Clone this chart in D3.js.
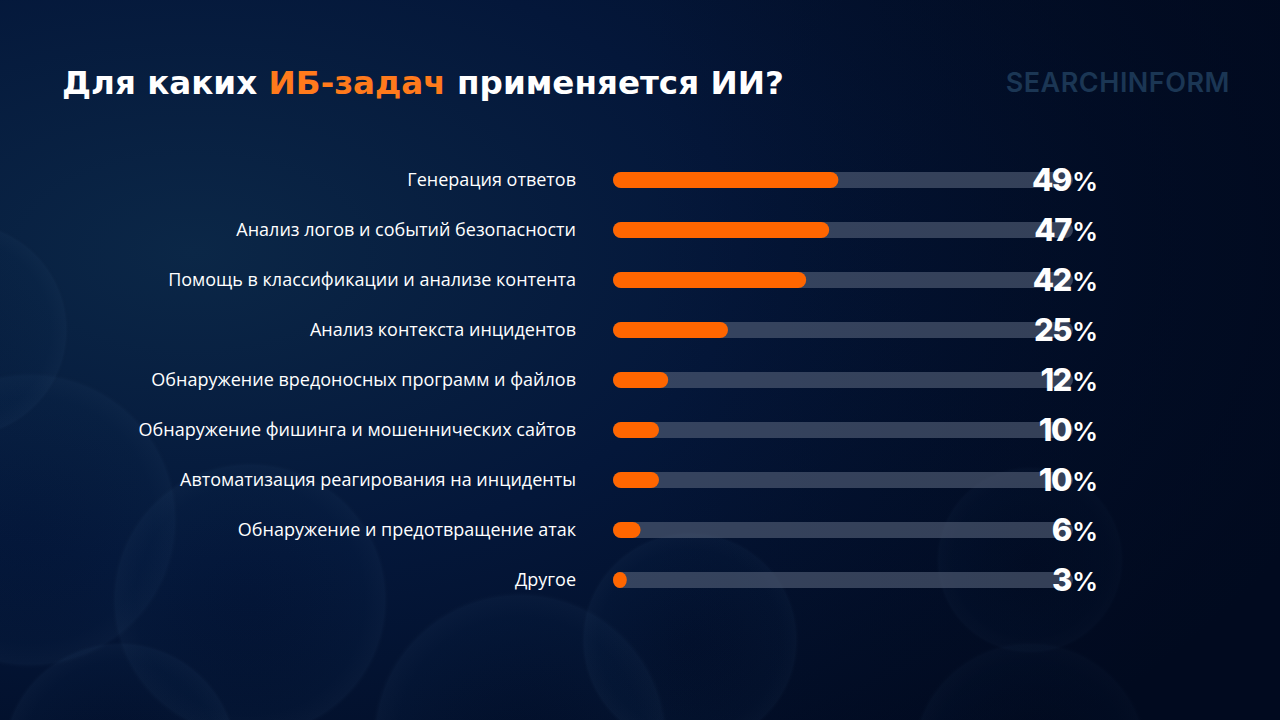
<!DOCTYPE html>
<html>
<head>
<meta charset="utf-8">
<script src="https://cdn.jsdelivr.net/npm/d3@7"></script>
<style>
  html, body { margin: 0; padding: 0; background: #020e26; }
  svg { display: block; }
</style>
</head>
<body>
<svg width="1280" height="720"></svg>
<script>
// данные
var categories = [
  "Генерация ответов",
  "Анализ логов и событий безопасности",
  "Помощь в классификации и анализе контента",
  "Анализ контекста инцидентов",
  "Обнаружение вредоносных программ и файлов",
  "Обнаружение фишинга и мошеннических сайтов",
  "Автоматизация реагирования на инциденты",
  "Обнаружение и предотвращение атак",
  "Другое"
];
var values = [49, 47, 42, 25, 12, 10, 10, 6, 3];

var width = 1280, height = 720;
var svg = d3.select("svg");
var defs = svg.append("defs");

// фон
var bg = defs.append("radialGradient").attr("id", "bg")
  .attr("cx", "15%").attr("cy", "35%").attr("r", "95%");
bg.append("stop").attr("offset", "0%").attr("stop-color", "#0b2747");
bg.append("stop").attr("offset", "45%").attr("stop-color", "#04173a");
bg.append("stop").attr("offset", "100%").attr("stop-color", "#010a1f");
svg.append("rect").attr("width", width).attr("height", height).attr("fill", "url(#bg)");

// пузыри на фоне (еле заметные)
var bub = defs.append("radialGradient").attr("id", "bub")
  .attr("cx", "50%").attr("cy", "50%").attr("r", "50%");
bub.append("stop").attr("offset", "0%").attr("stop-color", "#0a2444").attr("stop-opacity", 0.0);
bub.append("stop").attr("offset", "82%").attr("stop-color", "#0d2c52").attr("stop-opacity", 0.12);
bub.append("stop").attr("offset", "96%").attr("stop-color", "#2a4a70").attr("stop-opacity", 0.12);
bub.append("stop").attr("offset", "100%").attr("stop-color", "#01091c").attr("stop-opacity", 0.0);

var bubbles = [
  [30, 520, 150], [250, 600, 140], [520, 740, 150], [690, 640, 110],
  [120, 760, 120], [1030, 560, 95], [1030, 760, 120], [-40, 330, 110]
];
svg.append("g").selectAll("circle").data(bubbles).enter().append("circle")
  .attr("cx", d => d[0]).attr("cy", d => d[1]).attr("r", d => d[2])
  .attr("fill", "url(#bub)");

// затемнение справа
var shade = defs.append("linearGradient").attr("id", "shade").attr("x1", "0").attr("x2", "1");
shade.append("stop").attr("offset", "0%").attr("stop-color", "#010a1f").attr("stop-opacity", 0);
shade.append("stop").attr("offset", "100%").attr("stop-color", "#010a1f").attr("stop-opacity", 0.7);
svg.append("rect").attr("x", 640).attr("width", 640).attr("height", height).attr("fill", "url(#shade)");

// заголовок
var title = svg.append("text")
  .attr("x", 62).attr("y", 94)
  .attr("font-family", "DejaVu Sans")
  .attr("font-weight", "bold")
  .attr("font-size", 32.6)
  .attr("fill", "#ffffff");
title.append("tspan").text("Для каких ");
title.append("tspan").attr("fill", "#ff7a1c").text("ИБ-задач");
title.append("tspan").text(" применяется ИИ?");

// логотип
svg.append("text")
  .attr("x", 1230).attr("y", 92)
  .attr("text-anchor", "end")
  .attr("font-family", "Inter")
  .attr("font-weight", 600)
  .attr("font-size", 27)
  .attr("letter-spacing", 0.5)
  .attr("fill", "#1b3654")
  .text("SEARCHINFORM");

// шкалы
var y = d3.scaleBand()
  .domain(categories)
  .range([155, 605])
  .paddingInner(0.68)
  .paddingOuter(0.34);

var x = d3.scaleLinear()
  .domain([0, 100])
  .range([613, 1073]);

var barH = y.bandwidth();

var rows = svg.append("g").selectAll("g")
  .data(categories)
  .enter().append("g")
  .attr("transform", d => "translate(0," + y(d) + ")");

// дорожка
rows.append("rect")
  .attr("x", x(0))
  .attr("width", x(100) - x(0))
  .attr("height", barH)
  .attr("rx", barH / 2)
  .attr("fill", "#56637a")
  .attr("fill-opacity", 0.6);

// значение
rows.append("rect")
  .attr("x", x(0))
  .attr("width", (d, i) => Math.max(x(values[i]) - x(0), barH * 0.65))
  .attr("height", barH)
  .attr("rx", (d, i) => Math.min(barH / 2, (x(values[i]) - x(0)) / 2 + 2))
  .attr("fill", "#ff6600");

// подписи
rows.append("text")
  .attr("x", 576)
  .attr("y", barH / 2)
  .attr("dy", "0.35em")
  .attr("text-anchor", "end")
  .attr("font-family", "Open Sans")
  .attr("font-size", 18)
  .attr("fill", "#ffffff")
  .text(d => d);

// проценты
var pct = rows.append("text")
  .attr("x", 1098)
  .attr("y", barH / 2 + 11)
  .attr("text-anchor", "end")
  .attr("fill", "#ffffff")
  .attr("font-family", "Inter");
pct.append("tspan")
  .attr("font-size", 31)
  .attr("font-weight", 800)
  .attr("letter-spacing", -1.5)
  .text((d, i) => values[i]);
pct.append("tspan")
  .attr("font-size", 26)
  .attr("font-weight", 600)
  .attr("dx", 1)
  .text("%");
</script>
</body>
</html>
